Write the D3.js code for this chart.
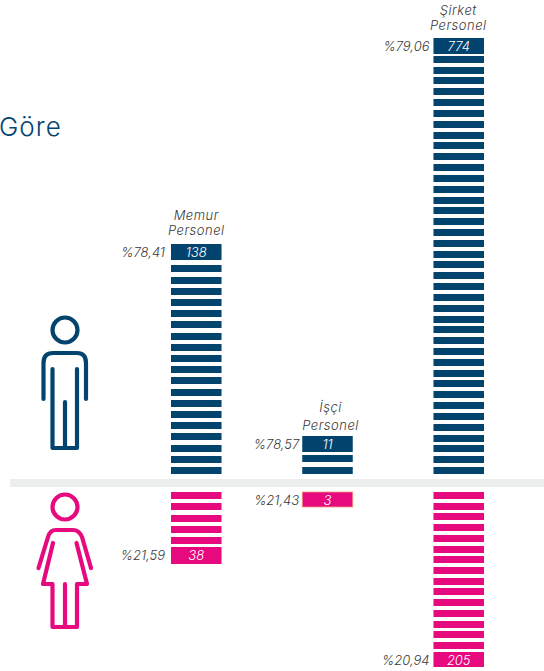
<!DOCTYPE html>
<html>
<head>
<meta charset="utf-8">
<script src="https://cdn.jsdelivr.net/npm/d3@7"></script>
<style>
  html, body { margin: 0; padding: 0; background: #fff; }
  svg { display: block; }
  text { font-family: Inter, "Open Sans", sans-serif; }
</style>
</head>
<body>
<script>
var categories = ['Memur', 'İşçi', 'Şirket'];
var categoryLines = [['Memur', 'Personel'], ['İşçi', 'Personel'], ['Şirket', 'Personel']];
var maleCounts = [138, 11, 774];
var femaleCounts = [38, 3, 205];
var malePercents = ['%78,41', '%78,57', '%79,06'];
var femalePercents = ['%21,59', '%21,43', '%20,94'];
var maleStripes = [19, 2, 39];
var femaleStripes = [5, 0, 15];

var width = 544;
var height = 671;
var blue = '#03446f';
var pink = '#e60a7e';
var ink = '#3a3a3a';

// layout per column, not data
var malePitch = [11.2, 11.6, 10.82];
var femalePitch = [11.25, 11, 10.72];
var maleGap = [5, 3, 2];
var femaleGap = [3, 0, 3];
var femaleLabelH = [17, 15, 15];
var pctOffset = [6, 3, 4];
var catStep = [15, 18, 15];
var catTop = [24, 24, 23];
var catShift = [0, 3, -0.5];
var maleBase = 474;
var femaleBase = 492;
var stripeH = 7;
var labelH = 16;

var svg = d3.select('body').append('svg')
  .attr('width', width)
  .attr('height', height);

var x = d3.scaleBand()
  .domain(categories)
  .range([171, 484])
  .paddingInner(0.615);

svg.append('text')
  .attr('x', -1)
  .attr('y', 136)
  .attr('font-size', 26)
  .attr('font-weight', 300)
  .attr('letter-spacing', 1)
  .attr('fill', blue)
  .text('Göre');

svg.append('rect')
  .attr('x', 10)
  .attr('y', 479)
  .attr('width', width - 10)
  .attr('height', 8)
  .attr('fill', '#eceeed');

function labelText(g, tx, ty, anchor, color, str) {
  return g.append('text')
    .attr('x', tx)
    .attr('y', ty)
    .attr('text-anchor', anchor)
    .attr('font-size', 13)
    .attr('font-style', 'italic')
    .attr('font-weight', 300)
    .attr('fill', color)
    .text(str);
}

function drawColumn(cat, i) {
  var bx = x(cat);
  var bw = x.bandwidth();
  var g = svg.append('g');

  // male stripes grow upward from the baseline
  var yMale = d3.scaleLinear()
    .domain([0, 1])
    .range([maleBase - stripeH, maleBase - stripeH - malePitch[i]]);
  g.selectAll('.male')
    .data(d3.range(maleStripes[i]))
    .enter()
      .append('rect')
      .attr('class', 'male')
      .attr('x', bx)
      .attr('y', function(d) { return Math.round(yMale(d)); })
      .attr('width', bw)
      .attr('height', stripeH)
      .attr('fill', blue);

  var maleTop = Math.round(yMale(maleStripes[i] - 1)) - maleGap[i] - labelH;
  g.append('rect')
    .attr('x', bx)
    .attr('y', maleTop)
    .attr('width', bw)
    .attr('height', labelH)
    .attr('fill', blue);
  labelText(g, bx + bw / 2, maleTop + 12.5, 'middle', '#fff', maleCounts[i]);
  labelText(g, bx - pctOffset[i], maleTop + 12.5, 'end', ink, malePercents[i]);

  categoryLines[i].forEach(function(line, k) {
    labelText(g, bx + bw / 2 + catShift[i], maleTop - catTop[i] + k * catStep[i], 'middle', ink, line)
      .attr('letter-spacing', 0.5);
  });

  // female stripes grow downward
  var yFemale = d3.scaleLinear()
    .domain([0, 1])
    .range([femaleBase, femaleBase + femalePitch[i]]);
  g.selectAll('.female')
    .data(d3.range(femaleStripes[i]))
    .enter()
      .append('rect')
      .attr('class', 'female')
      .attr('x', bx)
      .attr('y', function(d) { return Math.round(yFemale(d)); })
      .attr('width', bw)
      .attr('height', stripeH)
      .attr('fill', pink);

  var femaleTop = femaleStripes[i]
    ? Math.round(yFemale(femaleStripes[i] - 1)) + stripeH + femaleGap[i]
    : femaleBase;
  var box = g.append('rect')
    .attr('x', bx)
    .attr('y', femaleTop)
    .attr('width', bw)
    .attr('height', femaleLabelH[i])
    .attr('fill', pink);
  // the small one has a thin orange edge in the original
  if (!femaleStripes[i]) {
    box.attr('stroke', '#f39a7c').attr('stroke-width', 0.8);
  }
  labelText(g, bx + bw / 2, femaleTop + 12.5, 'middle', '#fff', femaleCounts[i]);
  labelText(g, bx - pctOffset[i], femaleTop + 12.5, 'end', ink, femalePercents[i]);
}

categories.forEach(drawColumn);

// person icons
function drawIcon(paths, headY, color) {
  var g = svg.append('g')
    .attr('fill', 'none')
    .attr('stroke', color)
    .attr('stroke-width', 4.2)
    .attr('stroke-linecap', 'round')
    .attr('stroke-linejoin', 'round');
  g.append('circle')
    .attr('cx', 65)
    .attr('cy', headY)
    .attr('r', 12.5);
  g.selectAll('path')
    .data(paths)
    .enter()
      .append('path')
      .attr('d', function(d) { return d; });
}

drawIcon([
  'M43.5 399V363Q43.5 353 53 353H77Q86 353 86 363V399',
  'M52.5 369V448H77V369',
  'M65 402V448'
], 330, blue);

drawIcon([
  'M38.5 568L48 537Q50 530 56 530H73Q79 530 82 537L91 568',
  'M53 543L43 584H52.5V627H77V584H87L76.5 543',
  'M65 584V627'
], 507, pink);
</script>
</body>
</html>
